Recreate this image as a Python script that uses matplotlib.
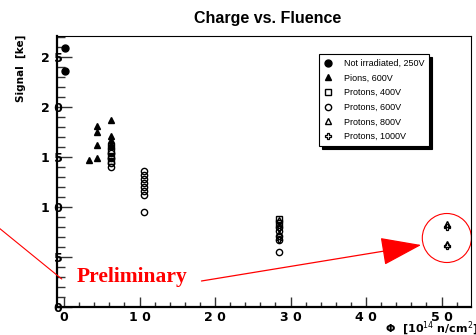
import matplotlib
matplotlib.use('Agg')
import matplotlib.pyplot as plt
from matplotlib.patches import Ellipse

# data (fluence in 1e14 n/cm^2, signal in ke)
notirr_x = [0.13, 0.13]
notirr_y = [25.9, 23.6]

pions_x = [3.3, 4.4, 4.4, 4.4, 4.4, 6.2, 6.2, 6.2, 6.2]
pions_y = [14.7, 14.9, 16.2, 17.5, 18.1, 18.7, 17.1, 16.7, 16.3]

p400_x = [6.2, 6.2, 6.2, 6.2, 28.5, 28.5]
p400_y = [16.1, 15.6, 15.1, 14.6, 8.8, 8.4]

p600_x = [6.2, 6.2, 6.2, 6.2, 10.6, 10.6, 10.6, 10.6, 10.6, 10.6, 10.6, 10.6,
          28.5, 28.5, 28.5, 28.5, 28.5]
p600_y = [15.4, 14.9, 14.4, 14.0, 13.6, 13.2, 12.8, 12.4, 12.0, 11.6, 11.2, 9.5,
          8.0, 7.6, 7.1, 6.7, 5.5]

p800_x = [28.5, 28.5, 50.7, 50.7]
p800_y = [8.7, 7.3, 8.3, 6.3]

p1000_x = [28.5, 28.5, 50.7, 50.7]
p1000_y = [7.9, 6.8, 8.0, 6.1]

xticks = [0, 10, 20, 30, 40, 50]
xtick_labels = ['0', '1 0', '2 0', '3 0', '4 0', '5 0']
yticks = [0, 5, 10, 15, 20, 25]
ytick_labels = ['0', '5', '1 0', '1 5', '2 0', '2 5']

W, H = 477, 335
fig = plt.figure(figsize=(W / 100, H / 100), dpi=100)
ax = fig.add_axes([57 / W, 1 - 307 / H, (471 - 57) / W, (307 - 36) / H])

ms = 4.5
ax.plot(notirr_x, notirr_y, 'o', color='k', ms=5, ls='none', label='Not irradiated, 250V')
ax.plot(pions_x, pions_y, '^', color='k', ms=5, ls='none', label='Pions, 600V')
ax.plot(p400_x, p400_y, 's', mfc='none', mec='k', mew=1, ms=ms, ls='none', label='Protons, 400V')
ax.plot(p600_x, p600_y, 'o', mfc='none', mec='k', mew=1, ms=ms, ls='none', label='Protons, 600V')
ax.plot(p800_x, p800_y, '^', mfc='none', mec='k', mew=1, ms=ms, ls='none', label='Protons, 800V')
ax.plot(p1000_x, p1000_y, 'P', mfc='none', mec='k', mew=0.9, ms=ms + 0.5, ls='none', label='Protons, 1000V')

ax.set_xlim(-0.93, 53.9)
ax.set_ylim(0, 27.1)

ax.set_xticks(xticks)
ax.set_xticklabels(xtick_labels)
ax.set_xticks(range(0, 54, 2), minor=True)
ax.set_yticks(yticks)
ax.set_yticklabels(ytick_labels)
ax.set_yticks(range(0, 28), minor=True)

for lab in ax.get_xticklabels() + ax.get_yticklabels():
    lab.set_fontweight('bold')
    lab.set_fontsize(9)
    lab.set_family('DejaVu Sans')

ax.tick_params(axis='y', which='major', direction='in', length=11, width=1, pad=-4, color='#333333')
ax.tick_params(axis='y', which='minor', direction='in', length=6, width=1, color='#333333')
ax.tick_params(axis='x', which='major', direction='in', length=7, width=1, pad=3, color='#333333')
ax.tick_params(axis='x', which='minor', direction='in', length=3.5, width=1, color='#333333')

ax.spines['left'].set_linewidth(1.6)
ax.spines['bottom'].set_linewidth(1.6)
ax.spines['top'].set_linewidth(0.8)
ax.spines['right'].set_linewidth(0.8)

fig.text(0.5 * (57 + 471) / W + 0.008, 1 - 18 / H, 'Charge vs. Fluence', ha='center', va='center',
         fontsize=11.5, fontweight='bold', family='Liberation Sans')
fig.text(21 / W, 1 - 35 / H, 'Signal  [ke]', rotation=90, ha='center', va='top',
         fontsize=7.5, fontweight='bold', family='DejaVu Sans')
fig.text(385 / W, 1 - 329 / H, 'Φ  [10$^{14}$ n/cm$^{2}$]', ha='left', va='center',
         fontsize=8, fontweight='bold', family='DejaVu Sans')

leg = ax.legend(loc='upper left', bbox_to_anchor=(319 / W, 1 - 54 / H), bbox_transform=fig.transFigure,
                borderaxespad=0, fancybox=False, shadow={'color': 'black', 'alpha': 1},
                prop={'family': 'Liberation Sans', 'size': 6.5}, handlelength=1.0, handletextpad=1.2,
                labelspacing=0.62, borderpad=0.55, framealpha=1, edgecolor='black')
leg.get_frame().set_linewidth(0.8)

# red "Preliminary" annotation
ax.text(9.0, 3.0, 'Preliminary', color='red', fontsize=15.5, fontweight='bold',
        family='Liberation Serif', ha='center', va='center')
ax.annotate('', xy=(47.3, 6.2), xytext=(18.2, 2.6),
            arrowprops=dict(arrowstyle='-|>,head_length=1.3,head_width=0.45', color='red',
                            lw=0.9, mutation_scale=20, shrinkA=0, shrinkB=0),
            annotation_clip=False)
ax.annotate('', xy=(-0.3, 2.8), xytext=(-8.6, 7.9),
            arrowprops=dict(arrowstyle='-', color='red', lw=0.8, shrinkA=0, shrinkB=0),
            annotation_clip=False)
ax.add_patch(Ellipse((50.7, 6.9), 6.5, 4.9, fill=False, ec='red', lw=0.8, clip_on=False))

fig.savefig('out.png', dpi=100)
